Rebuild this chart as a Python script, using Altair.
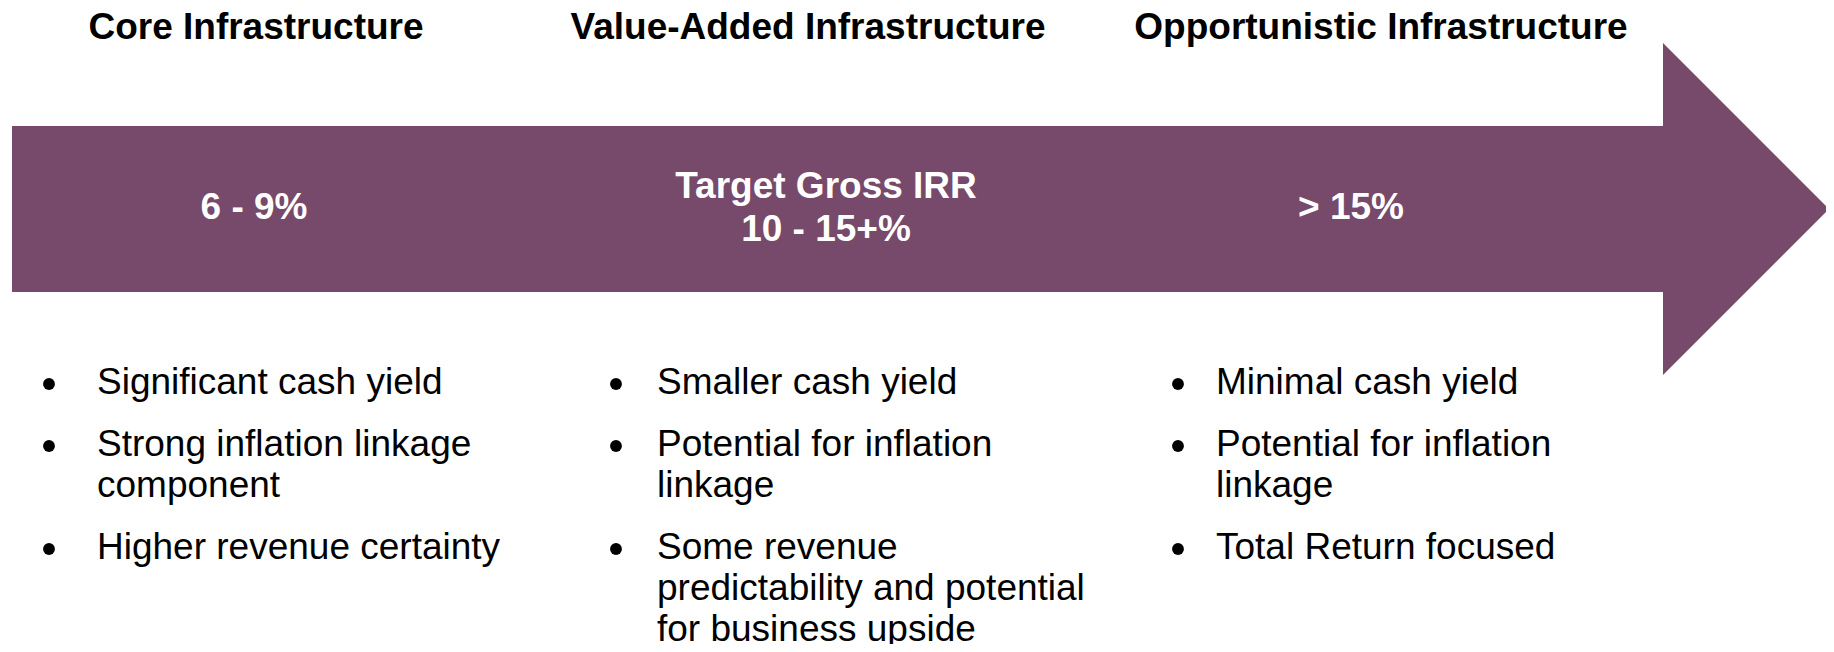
import altair as alt
import pandas as pd

# ---------------- content ----------------
stages = ["Core Infrastructure", "Value-Added Infrastructure", "Opportunistic Infrastructure"]
irr_lines = [["6 - 9%"], ["Target Gross IRR", "10 - 15+%"], ["> 15%"]]
bullets = [
    [["Significant cash yield"],
     ["Strong inflation linkage", "component"],
     ["Higher revenue certainty"]],
    [["Smaller cash yield"],
     ["Potential for inflation", "linkage"],
     ["Some revenue", "predictability and potential", "for business upside"]],
    [["Minimal cash yield"],
     ["Potential for inflation", "linkage"],
     ["Total Return focused"]],
]

# ---------------- layout (page pixel coordinates) ----------------
PAGE_W, PAGE_H = 1834, 652
MARGIN = 8
W, H = PAGE_W - 2 * MARGIN, PAGE_H - 2 * MARGIN
PURPLE = "#77496A"
FONT = "Liberation Sans"
FS = 37

title_cx = [256, 808, 1381]
title_base = 39
irr_cx = [254, 826, 1351]
irr_base = {1: [219], 2: [198, 241]}
bullet_dot_x = [49, 616, 1178]
bullet_text_x = [97, 657, 1216]
first_base = 394
line_gap = 41
item_gap = 62
dot_offset = 10

# arrow geometry
body_x0, body_x1 = 12, 1664
body_top, body_bot = 126, 292
head_x0, head_tip = 1663, 1829
head_top, head_bot = 43, 375

# ---------------- tables ----------------
body_df = pd.DataFrame({"x": [body_x0], "x2": [body_x1], "y": [body_top], "y2": [body_bot]})
head_h = head_bot - head_top
head_w = head_tip - head_x0
head_df = pd.DataFrame({"x": [head_x0 + head_w / 2], "y": [(head_top + head_bot) / 2]})
# custom symbol path in unit box [-1,1]; unit = head_h / 2 pixels
hw = head_w / head_h  # half-width in units
head_path = f"M {-hw} -1 L {hw} 0 L {-hw} 1 Z"

title_df = pd.DataFrame({"text": stages, "x": title_cx, "y": [title_base] * len(stages)})

irr_rows = []
for c, lines in enumerate(irr_lines):
    for j, t in enumerate(lines):
        irr_rows.append({"text": t, "x": irr_cx[c], "y": irr_base[len(lines)][j]})
irr_df = pd.DataFrame(irr_rows)

text_rows, dot_rows = [], []
for c, items in enumerate(bullets):
    base = first_base
    for item in items:
        dot_rows.append({"x": bullet_dot_x[c], "y": base - dot_offset})
        for j, t in enumerate(item):
            text_rows.append({"text": t, "x": bullet_text_x[c], "y": base + j * line_gap})
        base = base + (len(item) - 1) * line_gap + item_gap
btext_df = pd.DataFrame(text_rows)
dot_df = pd.DataFrame(dot_rows)

# ---------------- scales ----------------
xs = alt.Scale(domain=[MARGIN, PAGE_W - MARGIN], nice=False, zero=False)
ys = alt.Scale(domain=[MARGIN, PAGE_H - MARGIN], reverse=True, nice=False, zero=False)
X = alt.X("x:Q", scale=xs, axis=None)
Y = alt.Y("y:Q", scale=ys, axis=None)

body = alt.Chart(body_df).mark_rect(color=PURPLE, opacity=1).encode(
    x=X, x2="x2:Q", y=Y, y2="y2:Q"
)

head = alt.Chart(head_df).mark_point(
    shape=head_path, filled=True, size=head_h * head_h, color=PURPLE, opacity=1, strokeWidth=0
).encode(x=X, y=Y)

titles = alt.Chart(title_df).mark_text(
    align="center", baseline="alphabetic", font=FONT, fontSize=FS, fontWeight="bold", color="#000000"
).encode(x=X, y=Y, text="text:N")

irr = alt.Chart(irr_df).mark_text(
    align="center", baseline="alphabetic", font=FONT, fontSize=FS, fontWeight="bold", color="#FFFFFF"
).encode(x=X, y=Y, text="text:N")

btext = alt.Chart(btext_df).mark_text(
    align="left", baseline="alphabetic", font=FONT, fontSize=FS, color="#000000"
).encode(x=X, y=Y, text="text:N")

dots = alt.Chart(dot_df).mark_point(
    filled=True, shape="circle", size=140, color="#000000", opacity=1
).encode(x=X, y=Y)

chart = (
    alt.layer(body, head, titles, irr, btext, dots)
    .properties(width=W, height=H, padding=0, autosize="none", background="#FFFFFF")
    .configure_view(strokeWidth=0)
)

chart.save("out.html", embed_options={"renderer": "svg", "actions": False})
